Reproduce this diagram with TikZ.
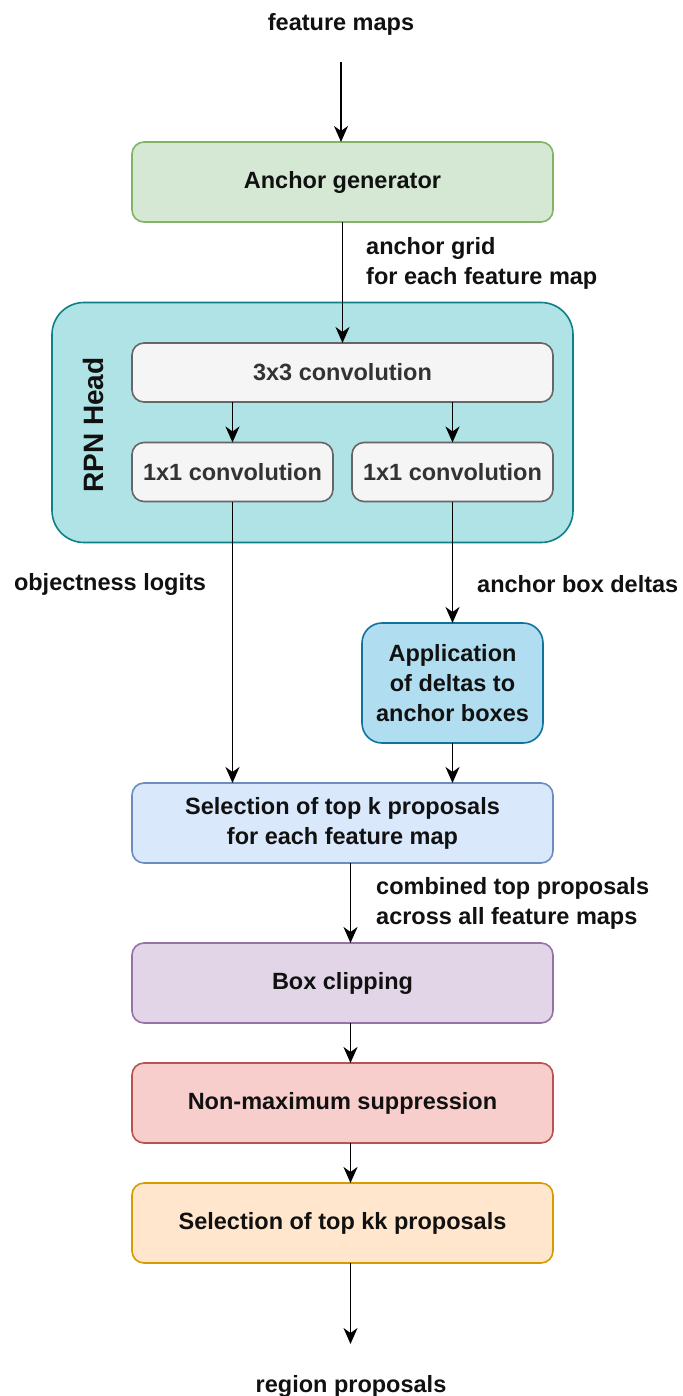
\documentclass[tikz,border=0pt]{standalone}
\usepackage{fontspec}
\setmainfont{Liberation Sans}
\usetikzlibrary{arrows.meta}

\definecolor{greenF}{HTML}{D5E8D4}\definecolor{greenD}{HTML}{82B366}
\definecolor{tealF}{HTML}{B0E3E6}\definecolor{tealD}{HTML}{0E8088}
\definecolor{grayF}{HTML}{F5F5F5}\definecolor{grayD}{HTML}{666666}
\definecolor{blueF}{HTML}{DAE8FC}\definecolor{blueD}{HTML}{6C8EBF}
\definecolor{cyanF}{HTML}{B1DDF0}\definecolor{cyanD}{HTML}{10739E}
\definecolor{purpF}{HTML}{E1D5E7}\definecolor{purpD}{HTML}{9673A6}
\definecolor{redF}{HTML}{F8CECC}\definecolor{redD}{HTML}{B85450}
\definecolor{orgF}{HTML}{FFE6CC}\definecolor{orgD}{HTML}{D79B00}
\definecolor{txt}{HTML}{111111}
\definecolor{convtxt}{HTML}{333333}

\tikzset{
  boxfont/.style={font=\bfseries\fontsize{23.5}{30}\selectfont},
  box/.style={draw, line width=1.6pt, rounded corners=12pt, inner sep=0pt,
    outer sep=0pt, align=center, boxfont, text=txt},
  widebox/.style={box, minimum width=421pt, minimum height=80pt},
  convbox/.style={box, fill=grayF, draw=grayD, text=convtxt, minimum height=59pt},
  lbl/.style={boxfont, text=txt, inner sep=0pt, align=left},
  arr/.style={-{Stealth[length=16pt,width=14pt,inset=5pt]}, line width=1.8pt, draw=black},
}

\begin{document}
\begin{tikzpicture}[x=1pt,y=-1pt]
\useasboundingbox[fill=white] (0,0) rectangle (682,1396);

% input
\node[lbl] (fm) at (341,24) {feature maps};
\coordinate (fmout) at (341,62);

% anchor generator
\node[widebox, fill=greenF, draw=greenD] (gen) at (342.5,182) {Anchor generator};
\node[lbl, anchor=west] (agl) at (366,263) {anchor grid\\for each feature map};

% RPN head container
\node[box, fill=tealF, draw=tealD, rounded corners=32pt,
      minimum width=521pt, minimum height=240pt] (rpn) at (312.5,422.5) {};
\node[lbl, font=\bfseries\fontsize{28}{34}\selectfont, rotate=90] (rpnlbl) at (93,425) {RPN Head};
\node[convbox, minimum width=421pt] (c3) at (342.5,372.5) {3x3 convolution};
\node[convbox, minimum width=201pt] (c1l) at (232.5,472) {1x1 convolution};
\node[convbox, minimum width=201pt] (c1r) at (452.5,472) {1x1 convolution};

% head outputs
\node[lbl] (obj) at (110,584) {objectness logits};
\node[lbl, anchor=west] (abd) at (477,584) {anchor box deltas};

\node[box, fill=cyanF, draw=cyanD, rounded corners=20pt,
      minimum width=181pt, minimum height=120pt] (app) at (452.5,683)
      {Application\\of deltas to\\anchor boxes};

% proposal pipeline
\node[widebox, fill=blueF, draw=blueD] (sel) at (342.5,823)
      {Selection of top k proposals\\for each feature map};
\node[lbl, anchor=west] (ctp) at (376,903) {combined top proposals\\across all feature maps};
\node[widebox, fill=purpF, draw=purpD] (clip) at (342.5,983) {Box clipping};
\node[widebox, fill=redF, draw=redD] (nms) at (342.5,1103) {Non-maximum suppression};
\node[widebox, fill=orgF, draw=orgD] (topkk) at (342.5,1223) {Selection of top kk proposals};

% output
\coordinate (rpin) at (350.5,1344);
\node[lbl] (rp) at (351,1386) {region proposals};

% connectors
\draw[arr] (fmout) -- (fmout |- gen.north);
\draw[arr] (gen.south) -- (c3.north);
\draw[arr] (c1l.north |- c3.south) -- (c1l.north);
\draw[arr] (c1r.north |- c3.south) -- (c1r.north);
\draw[arr] (c1l.south) -- (c1l.south |- sel.north);
\draw[arr] (c1r.south) -- (app.north);
\draw[arr] (app.south) -- (app.south |- sel.north);
\draw[arr] ([xshift=8pt]sel.south) -- ([xshift=8pt]clip.north);
\draw[arr] ([xshift=8pt]clip.south) -- ([xshift=8pt]nms.north);
\draw[arr] ([xshift=8pt]nms.south) -- ([xshift=8pt]topkk.north);
\draw[arr] ([xshift=8pt]topkk.south) -- (rpin);
\end{tikzpicture}
\end{document}
